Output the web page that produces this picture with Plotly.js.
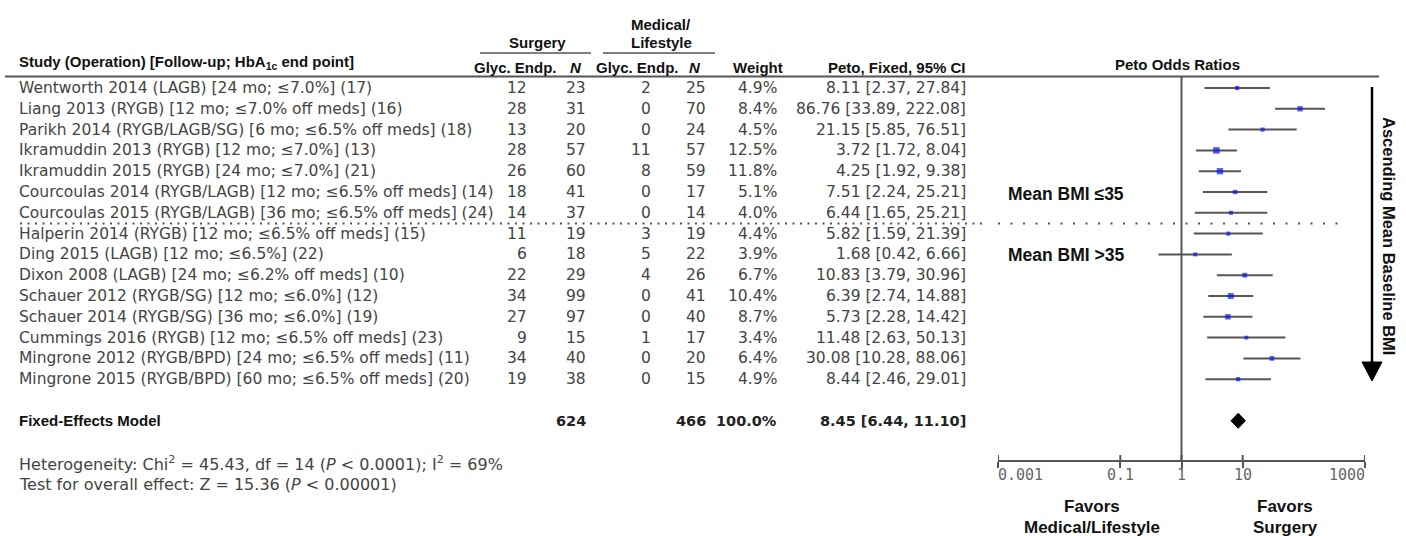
<!DOCTYPE html>
<html>
<head>
<meta charset="utf-8">
<script src="https://cdn.plot.ly/plotly-3.0.1.min.js"></script>
<style>html,body{margin:0;padding:0;background:#fff;}#chart{width:1406px;height:536px;}</style>
</head>
<body>
<div id="chart"></div>
<script>
// ---------- data ----------
const studies = [
  "Wentworth 2014 (LAGB) [24 mo; ≤7.0%] (17)",
  "Liang 2013 (RYGB) [12 mo; ≤7.0% off meds] (16)",
  "Parikh 2014 (RYGB/LAGB/SG) [6 mo; ≤6.5% off meds] (18)",
  "Ikramuddin 2013 (RYGB) [12 mo; ≤7.0%] (13)",
  "Ikramuddin 2015 (RYGB) [24 mo; ≤7.0%] (21)",
  "Courcoulas 2014 (RYGB/LAGB) [12 mo; ≤6.5% off meds] (14)",
  "Courcoulas 2015 (RYGB/LAGB) [36 mo; ≤6.5% off meds] (24)",
  "Halperin 2014 (RYGB) [12 mo; ≤6.5% off meds] (15)",
  "Ding 2015 (LAGB) [12 mo; ≤6.5%] (22)",
  "Dixon 2008 (LAGB) [24 mo; ≤6.2% off meds] (10)",
  "Schauer 2012 (RYGB/SG) [12 mo; ≤6.0%] (12)",
  "Schauer 2014 (RYGB/SG) [36 mo; ≤6.0%] (19)",
  "Cummings 2016 (RYGB) [12 mo; ≤6.5% off meds] (23)",
  "Mingrone 2012 (RYGB/BPD) [24 mo; ≤6.5% off meds] (11)",
  "Mingrone 2015 (RYGB/BPD) [60 mo; ≤6.5% off meds] (20)"
];
const surgEvents = [12, 28, 13, 28, 26, 18, 14, 11, 6, 22, 34, 27, 9, 34, 19];
const surgN      = [23, 31, 20, 57, 60, 41, 37, 19, 18, 29, 99, 97, 15, 40, 38];
const medEvents  = [2, 0, 0, 11, 8, 0, 0, 3, 5, 4, 0, 0, 1, 0, 0];
const medN       = [25, 70, 24, 57, 59, 17, 14, 19, 22, 26, 41, 40, 17, 20, 15];
const weights    = [4.9, 8.4, 4.5, 12.5, 11.8, 5.1, 4.0, 4.4, 3.9, 6.7, 10.4, 8.7, 3.4, 6.4, 4.9];
const oddsRatio  = [8.11, 86.76, 21.15, 3.72, 4.25, 7.51, 6.44, 5.82, 1.68, 10.83, 6.39, 5.73, 11.48, 30.08, 8.44];
const ciLow      = [2.37, 33.89, 5.85, 1.72, 1.92, 2.24, 1.65, 1.59, 0.42, 3.79, 2.74, 2.28, 2.63, 10.28, 2.46];
const ciHigh     = [27.84, 222.08, 76.51, 8.04, 9.38, 25.21, 25.21, 21.39, 6.66, 30.96, 14.88, 14.42, 50.13, 88.06, 29.01];
const pooled     = {label: "Fixed-Effects Model", surgN: 624, medN: 466, weight: "100.0%", or: 8.45, lo: 6.44, hi: 11.10};
const tickVals   = [0.001, 0.1, 1, 10, 1000];
const tickLabels = ["0.001", "0.1", "1", "10", "1000"];

// ---------- layout helpers ----------
const W = 1406, H = 536;
const px = v => v / W;
const py = v => 1 - v / H;
const rows = studies.map((_, i) => i);
const pooledRow = 16;
const BODY = {family: "DejaVu Sans, Verdana, sans-serif", size: 15.5, color: "#444"};
const HEAD = {family: "Liberation Sans, Arial, sans-serif", size: 15, color: "#111"};
const fmt = v => v.toFixed(2);

const ann = [];
function txt(x, y, text, font, xanchor, yref) {
  ann.push({x: px(x), xref: "paper", y: y, yref: yref || "y", text: text, showarrow: false,
            xanchor: xanchor || "left", yanchor: "middle", font: font});
}

// table body
rows.forEach(i => {
  txt(17, i, studies[i], BODY, "left");
  txt(529, i, String(surgEvents[i]), BODY, "right");
  txt(588, i, String(surgN[i]), BODY, "right");
  txt(653, i, String(medEvents[i]), BODY, "right");
  txt(708, i, String(medN[i]), BODY, "right");
  txt(779, i, weights[i].toFixed(1) + "%", BODY, "right");
  txt(968, i, fmt(oddsRatio[i]) + " [" + fmt(ciLow[i]) + ", " + fmt(ciHigh[i]) + "]", BODY, "right");
});
// pooled row
const BOLDB = {family: "Liberation Sans, Arial, sans-serif", size: 15, color: "#111"};
const BOLDN = {family: "DejaVu Sans, Verdana, sans-serif", size: 14.5, color: "#222"};
txt(17, pooledRow, "<b>" + pooled.label + "</b>", BOLDB, "left");
txt(588, pooledRow, "<b>" + pooled.surgN + "</b>", BOLDN, "right");
txt(708, pooledRow, "<b>" + pooled.medN + "</b>", BOLDN, "right");
txt(779, pooledRow, "<b>" + pooled.weight + "</b>", BOLDN, "right");
txt(968, pooledRow, "<b>" + fmt(pooled.or) + " [" + fmt(pooled.lo) + ", " + fmt(pooled.hi) + "]</b>", BOLDN, "right");

// headers
const HB = HEAD;
txt(17, py(63), "<b>Study (Operation) [Follow-up; HbA<sub>1c</sub> end point]</b>", HB, "left", "paper");
txt(537, py(43), "<b>Surgery</b>", HB, "center", "paper");
txt(661, py(24), "<b>Medical/</b>", HB, "center", "paper");
txt(661, py(42), "<b>Lifestyle</b>", HB, "center", "paper");
txt(515, py(67), "<b>Glyc. Endp.</b>", HB, "center", "paper");
txt(576, py(67), "<b><i>N</i></b>", HB, "center", "paper");
txt(637, py(67), "<b>Glyc. Endp.</b>", HB, "center", "paper");
txt(695, py(67), "<b><i>N</i></b>", HB, "center", "paper");
txt(758, py(67), "<b>Weight</b>", HB, "center", "paper");
txt(968, py(67), "<b>Peto, Fixed, 95% CI</b>", HB, "right", "paper");
txt(1177, py(64), "<b>Peto Odds Ratios</b>", HB, "center", "paper");

// notes
const NOTE = {family: "DejaVu Sans, Verdana, sans-serif", size: 16, color: "#444"};
txt(17, py(464), "Heterogeneity: Chi<sup>2</sup> = 45.43, df = 14 (<i>P</i> < 0.0001); I<sup>2</sup> = 69%", NOTE, "left", "paper");
txt(17, py(484), "Test for overall effect: Z = 15.36 (<i>P</i> < 0.00001)", NOTE, "left", "paper");

// plot labels
const BIG = {family: "Liberation Sans, Arial, sans-serif", size: 17.5, color: "#111"};
txt(1006, py(194), "<b>Mean BMI ≤35</b>", BIG, "left", "paper");
txt(1006, py(255), "<b>Mean BMI >35</b>", BIG, "left", "paper");
const FAV = {family: "Liberation Sans, Arial, sans-serif", size: 17, color: "#111"};
txt(1092, py(506), "<b>Favors</b>", FAV, "center", "paper");
txt(1092, py(527), "<b>Medical/Lifestyle</b>", FAV, "center", "paper");
txt(1285, py(506), "<b>Favors</b>", FAV, "center", "paper");
txt(1285, py(527), "<b>Surgery</b>", FAV, "center", "paper");
ann.push({x: px(1389), xref: "paper", y: py(236), yref: "paper", text: "<b>Ascending Mean Baseline BMI</b>",
          textangle: 90, showarrow: false, xanchor: "center", yanchor: "middle",
          font: {family: "Liberation Sans, Arial, sans-serif", size: 16.5, color: "#111"}});

// tick labels (edge labels pulled inward as in the reference)
tickVals.forEach((v, k) => {
  ann.push({x: Math.log10(v), xref: "x", y: py(475), yref: "paper", text: tickLabels[k], showarrow: false,
            xanchor: k === 0 ? "left" : (k === tickVals.length - 1 ? "right" : "center"), yanchor: "middle",
            xshift: k === 0 ? -2 : (k === tickVals.length - 1 ? 2 : 0),
            font: {family: "DejaVu Sans Mono, monospace", size: 15, color: "#666"}});
});

// ---------- shapes ----------
const GREY = "#555";
const shapes = [
  {type: "line", xref: "paper", yref: "paper", x0: px(5), x1: px(1379), y0: py(76.5), y1: py(76.5), line: {color: GREY, width: 2}},
  {type: "line", xref: "paper", yref: "paper", x0: px(480), x1: px(591), y0: py(53), y1: py(53), line: {color: GREY, width: 1.5}},
  {type: "line", xref: "paper", yref: "paper", x0: px(603), x1: px(715), y0: py(53), y1: py(53), line: {color: GREY, width: 1.5}},
  {type: "line", xref: "paper", yref: "paper", x0: px(20), x1: px(985), y0: py(223.5), y1: py(223.5), line: {color: GREY, width: 2, dash: "2px,5.5px"}},
  {type: "line", xref: "paper", yref: "paper", x0: px(998), x1: px(1346), y0: py(223.5), y1: py(223.5), line: {color: GREY, width: 2, dash: "2px,10.5px"}},
  {type: "line", xref: "x", yref: "paper", x0: 1, x1: 1, y0: py(461), y1: py(77), line: {color: GREY, width: 2}},
  {type: "line", xref: "paper", yref: "paper", x0: px(1372), x1: px(1372), y0: py(87), y1: py(365), line: {color: "#000", width: 2.5}},
  {type: "path", xref: "paper", yref: "paper", path: `M ${px(1362)} ${py(362)} L ${px(1382)} ${py(362)} L ${px(1372)} ${py(381)} Z`,
   fillcolor: "#000", line: {color: "#000", width: 1}}
];
tickVals.forEach(v => shapes.push({type: "line", xref: "x", yref: "paper", x0: v, x1: v, y0: py(461), y1: py(455), line: {color: GREY, width: 2}}));

// ---------- traces ----------
const traces = [
  {
    type: "scatter", mode: "markers", x: oddsRatio, y: rows,
    marker: {symbol: "square", color: "#0b18ee", size: weights.map(w => 2.8 + 0.3 * w), line: {width: 0}},
    error_x: {type: "data", symmetric: false,
              array: oddsRatio.map((v, i) => ciHigh[i] - v),
              arrayminus: oddsRatio.map((v, i) => v - ciLow[i]),
              color: GREY, thickness: 2, width: 0},
    hoverinfo: "skip"
  },
  {
    type: "scatter", mode: "lines", fill: "toself", fillcolor: "#000",
    x: [pooled.lo, pooled.or, pooled.hi, pooled.or, pooled.lo],
    y: [pooledRow, pooledRow - 0.36, pooledRow, pooledRow + 0.36, pooledRow],
    line: {color: "#000", width: 1}, hoverinfo: "skip"
  }
];

const layout = {
  width: W, height: H, margin: {l: 0, r: 0, t: 0, b: 0},
  paper_bgcolor: "#fff", plot_bgcolor: "rgba(0,0,0,0)", showlegend: false,
  xaxis: {type: "log", range: [-3, 3], domain: [px(998), px(1365)], anchor: "free", position: py(461),
          tickvals: tickVals, showticklabels: false, ticks: "outside", ticklen: 6, tickwidth: 2, tickcolor: GREY,
          showline: true, linewidth: 2, linecolor: GREY, showgrid: false, zeroline: false, fixedrange: true},
  yaxis: {range: [(H - 88) / 20.8, -88 / 20.8], domain: [0, 1], visible: false, showgrid: false, zeroline: false, fixedrange: true},
  annotations: ann, shapes: shapes
};
Plotly.newPlot("chart", traces, layout, {displayModeBar: false, staticPlot: true});
</script>
</body>
</html>
